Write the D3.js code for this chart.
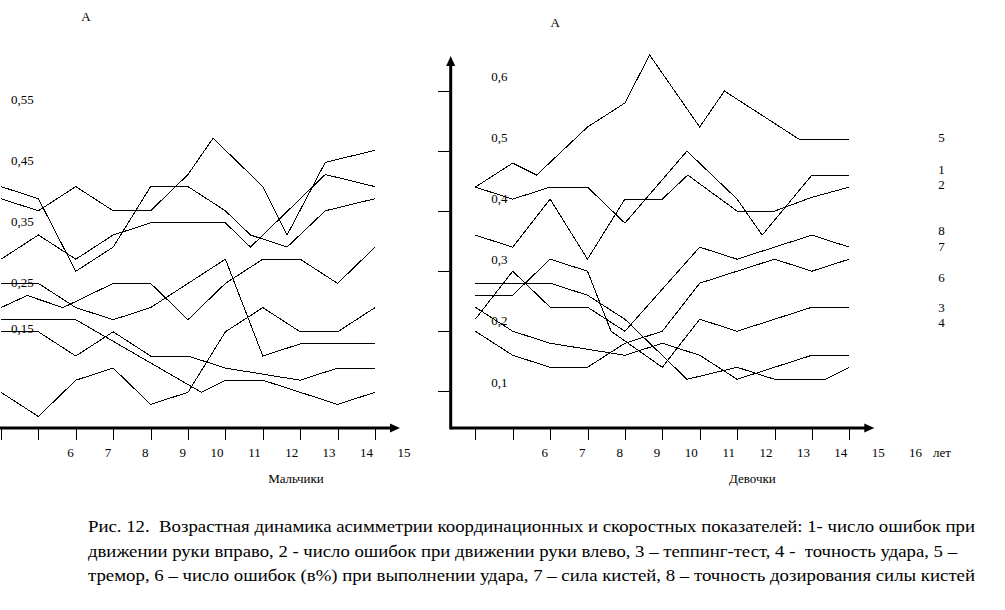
<!DOCTYPE html>
<html lang="ru">
<head>
<meta charset="UTF-8">
<title>Рис. 12</title>
<script src="https://cdn.jsdelivr.net/npm/d3@7"></script>
<style>
  body { margin: 0; background: #fff; }
  svg { display: block; }
  svg text { font-family: "Liberation Serif", "Times New Roman", Times, serif; fill: #000; }
  .lbl { font-size: 13px; }
  .title { font-size: 13px; }
  .caption { font-size: 17px; white-space: pre; }
  .series { fill: none; stroke: #000; stroke-width: 1px; shape-rendering: crispEdges; }
  .tick line { stroke: #000; stroke-width: 1px; shape-rendering: crispEdges; }
</style>
</head>
<body>
<div id="chart"></div>
<script>

// ---- values ----
var tickAges = [4, 5, 6, 7, 8, 9, 10, 11, 12, 13, 14];
var boysAgeLabels = [6, 7, 8, 9, 10, 11, 12, 13, 14, 15];
var girlsAgeLabels = [6, 7, 8, 9, 10, 11, 12, 13, 14, 15, 16];
var boysValueLabels = [0.55, 0.45, 0.35, 0.25, 0.15];
var girlsValueLabels = [0.6, 0.5, 0.4, 0.3, 0.2, 0.1];
var girlsValueTicks = [0.1, 0.2, 0.3, 0.4, 0.5, 0.6];

// boys: the curves are not numbered in the figure, [age, A]
var boysA = [[4,0.44],[5,0.42],[6,0.30],[7,0.34],[8,0.44],[9,0.44],[10,0.40],[10.67,0.36],[11.65,0.34],[12.67,0.40],[14,0.42]];
var boysB = [[4,0.42],[5,0.40],[6,0.44],[7,0.40],[8,0.40],[9,0.46],[9.67,0.52],[11,0.44],[11.65,0.36],[12.67,0.48],[14,0.50]];
var boysC = [[4,0.32],[5,0.36],[6,0.32],[7,0.36],[8,0.38],[10,0.38],[10.67,0.34],[12.67,0.46],[14,0.44]];
var boysD = [[4,0.28],[5,0.28],[6,0.24],[7,0.22],[8,0.24],[10,0.32],[11,0.16],[12,0.18],[14,0.18]];
var boysE = [[4,0.24],[4.7,0.26],[5.66,0.24],[7,0.28],[8,0.28],[9,0.22],[10,0.28],[11,0.32],[12,0.32],[13,0.28],[14,0.34]];
var boysF = [[4,0.22],[6,0.22],[9.36,0.10],[10,0.12],[11,0.12],[12,0.10],[13,0.08],[14,0.10]];
var boysG = [[4,0.20],[5,0.20],[6,0.16],[7,0.20],[8,0.16],[9,0.16],[10,0.14],[12,0.12],[13,0.14],[14,0.14]];
var boysH = [[4,0.10],[5,0.06],[6,0.12],[7,0.14],[8,0.08],[9,0.10],[10,0.20],[11,0.24],[12,0.20],[13,0.20],[14,0.24]];

// girls, numbered as in the caption
var girls5 = [[4,0.44],[5,0.48],[5.64,0.46],[7,0.54],[8,0.58],[8.66,0.66],[10,0.54],[10.66,0.60],[12.65,0.52],[14,0.52]];
var girls1 = [[4,0.44],[5,0.42],[6,0.44],[7,0.44],[8,0.38],[9.66,0.50],[11,0.42],[11.67,0.36],[13,0.46],[14,0.46]];
var girls2 = [[4,0.36],[5,0.34],[6,0.42],[7,0.32],[8,0.42],[9,0.42],[9.68,0.46],[11,0.40],[12,0.40],[13,0.423],[14,0.44]];
var girls8 = [[4,0.22],[5,0.30],[6,0.24],[7,0.24],[8,0.20],[10,0.34],[11,0.32],[12,0.34],[13,0.36],[14,0.34]];
var girls7 = [[4,0.20],[5,0.16],[6,0.14],[7,0.14],[8,0.18],[9,0.20],[10,0.28],[12,0.32],[13,0.30],[14,0.32]];
var girls6 = [[4,0.26],[5,0.26],[6,0.32],[7,0.30],[7.63,0.20],[9,0.14],[10,0.22],[11,0.20],[13,0.24],[14,0.24]];
var girls3 = [[4,0.24],[5,0.20],[6,0.18],[7,0.17],[8,0.16],[9,0.18],[10,0.16],[11,0.12],[13,0.16],[14,0.16]];
var girls4 = [[4,0.28],[6,0.28],[7,0.26],[8,0.22],[9.66,0.12],[11,0.14],[12,0.12],[13.36,0.12],[14,0.14]];

// curve numbers written to the right of the girls panel
var girlsEndNames = ["5", "1", "2", "8", "7", "6", "3", "4"];
var girlsEndValues = [0.522, 0.47, 0.445, 0.367, 0.342, 0.29, 0.24, 0.214];

var captionLines = [
  "Рис. 12.  Возрастная динамика асимметрии координационных и скоростных показателей: 1- число ошибок при",
  "движении руки вправо, 2 - число ошибок при движении руки влево, 3 – теппинг-тест, 4 -  точность удара, 5 –",
  "тремор, 6 – число ошибок (в%) при выполнении удара, 7 – сила кистей, 8 – точность дозирования силы кистей"
];

// ---- layout ----
var width = 1005, height = 610;
var axisY = 428;        // level of the horizontal axis
var yAxisX = -24.6;     // vertical axis, relative to age 4

var svg = d3.select("#chart").append("svg")
    .attr("width", width)
    .attr("height", height);

var x = d3.scaleLinear().domain([4, 14]).range([0, 374]);

var yBoys = d3.scaleLinear().domain([0.56, 0.06]).range([114, 416.5]);
var yGirls = d3.scaleLinear().domain([0.6, 0.1]).range([91, 391.3]);

// the value labels sit a little above their level, spacing is not even
var yBoysLabel = d3.scaleLinear().domain([0.55, 0.25, 0.15]).range([99, 282, 328]);
var yGirlsLabel = d3.scaleLinear().domain([0.6, 0.1]).range([76, 382]);

var line = d3.line().x(function(d) { return x(d[0]); });

function drawPanel(opt) {
  var g = svg.append("g").attr("transform", "translate(" + opt.left + ",0)");

  // horizontal axis with arrow
  g.append("line")
      .attr("x1", yAxisX).attr("x2", 392)
      .attr("y1", axisY).attr("y2", axisY)
      .attr("stroke", "#000").attr("stroke-width", 3);
  g.append("path")
      .attr("d", "M399," + axisY + "L389," + (axisY - 4.5) + "L389," + (axisY + 4.5) + "Z")
      .attr("fill", "#000");

  g.append("g")
      .attr("transform", "translate(0," + (axisY + 1) + ")")
      .call(d3.axisBottom(x).tickValues(tickAges).tickSize(11).tickFormat(""))
      .call(function(a) { a.select(".domain").remove(); });

  g.selectAll(".ageLabel")
    .data(opt.ageLabels)
    .enter().append("text")
      .attr("class", "lbl")
      .attr("x", function(d) { return x(d) - 2; })
      .attr("y", 457)
      .attr("text-anchor", "end")
      .text(function(d) { return d; });

  // vertical axis
  if (opt.yAxis) {
    g.append("line")
        .attr("x1", yAxisX).attr("x2", yAxisX)
        .attr("y1", axisY + 1.5).attr("y2", 64)
        .attr("stroke", "#000").attr("stroke-width", 3);
    g.append("path")
        .attr("d", "M" + yAxisX + ",56L" + (yAxisX - 4.5) + ",66L" + (yAxisX + 4.5) + ",66Z")
        .attr("fill", "#000");
    g.append("g")
        .attr("transform", "translate(" + (yAxisX - 1) + ",0)")
        .call(d3.axisLeft(opt.y).tickValues(opt.yTicks).tickSize(12).tickFormat(""))
        .call(function(a) { a.select(".domain").remove(); });
  }

  g.selectAll(".valueLabel")
    .data(opt.valueLabels)
    .enter().append("text")
      .attr("class", "lbl")
      .attr("x", opt.valueLabelX)
      .attr("y", function(d) { return opt.yLabel(d); })
      .attr("dy", "0.35em")
      .text(function(d) { return String(d).replace(".", ","); });

  g.append("text")
      .attr("class", "lbl")
      .attr("x", opt.aX).attr("y", opt.aY)
      .attr("dy", "0.35em")
      .attr("text-anchor", "middle")
      .text("А");

  g.append("text")
      .attr("class", "title")
      .attr("x", opt.titleX).attr("y", 478)
      .attr("dy", "0.35em")
      .attr("text-anchor", "middle")
      .text(opt.title);

  // the curves
  line.y(function(d) { return opt.y(d[1]); });
  g.append("g")
    .selectAll("path")
    .data(opt.series)
    .enter().append("path")
      .attr("class", "series")
      .attr("d", line);

  return g;
}

drawPanel({
  left: 1, y: yBoys, yLabel: yBoysLabel, yAxis: false,
  valueLabels: boysValueLabels, valueLabelX: 10,
  ageLabels: boysAgeLabels,
  series: [boysA, boysB, boysC, boysD, boysE, boysF, boysG, boysH],
  title: "Мальчики", titleX: 295, aX: 85, aY: 16
});

var girlsPanel = drawPanel({
  left: 475.3, y: yGirls, yLabel: yGirlsLabel, yAxis: true, yTicks: girlsValueTicks,
  valueLabels: girlsValueLabels, valueLabelX: 16,
  ageLabels: girlsAgeLabels,
  series: [girls5, girls1, girls2, girls8, girls7, girls6, girls3, girls4],
  title: "Девочки", titleX: 277, aX: 80, aY: 22
});

girlsPanel.append("text")
    .attr("class", "lbl")
    .attr("x", x(16) + 9).attr("y", 457)
    .text("лет");

// curve numbers
girlsPanel.selectAll(".endName")
  .data(girlsEndNames)
  .enter().append("text")
    .attr("class", "lbl")
    .attr("x", 463)
    .attr("y", function(d, i) { return yGirls(girlsEndValues[i]); })
    .attr("dy", "0.35em")
    .text(function(d) { return d; });

// caption
svg.selectAll(".caption")
  .data(captionLines)
  .enter().append("text")
    .attr("class", "caption")
    .attr("x", 88)
    .attr("y", function(d, i) { return 532 + i * 24.5; })
    .attr("textLength", function(d, i) { return i === 1 ? 869 : 887; })
    .attr("lengthAdjust", "spacingAndGlyphs")
    .text(function(d) { return d; });

</script>
</body>
</html>
